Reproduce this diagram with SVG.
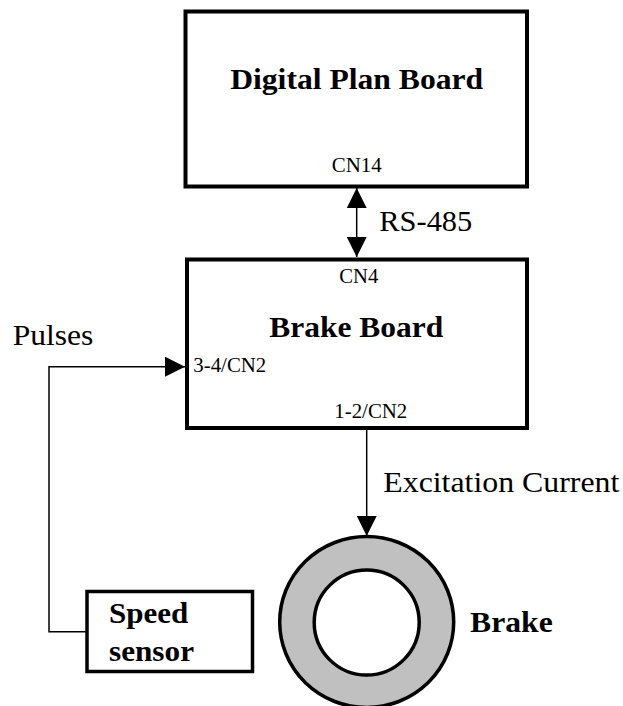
<svg xmlns="http://www.w3.org/2000/svg" width="623" height="706" viewBox="0 0 623 706">
  <style>
    .box { fill: #ffffff; stroke: #000000; stroke-width: 4; }
    .wire { fill: none; stroke: #000000; stroke-width: 1.5; }
    .bold { font-family: "Liberation Serif", "Times New Roman", serif; font-weight: bold; font-size: 29px; fill: #000000; }
    .reg { font-family: "Liberation Serif", "Times New Roman", serif; font-size: 29px; fill: #000000; }
    .small { font-family: "Liberation Serif", "Times New Roman", serif; font-size: 20px; fill: #000000; }
  </style>
  <defs>
    <marker id="arrow" markerUnits="userSpaceOnUse" markerWidth="20" markerHeight="20" viewBox="0 0 20 20" refX="20" refY="10" orient="auto-start-reverse">
      <path d="M0,0 L20,10 L0,20 Z" fill="#000000"/>
    </marker>
  </defs>
  <rect width="623" height="706" fill="#ffffff"/>

  <g id="connectors">
    <line class="wire" x1="356.7" y1="188" x2="356.7" y2="257" marker-start="url(#arrow)" marker-end="url(#arrow)"/>
    <polyline class="wire" points="87,631.7 49,631.7 49,366.7 185,366.7" marker-end="url(#arrow)"/>
    <line class="wire" x1="366.7" y1="430" x2="366.7" y2="536" marker-end="url(#arrow)"/>
  </g>

  <g id="digital-plan-board">
    <rect class="box" x="185.5" y="11.5" width="341.5" height="175"/>
    <text class="bold" x="356.7" y="89.3" text-anchor="middle" textLength="253" lengthAdjust="spacingAndGlyphs">Digital Plan Board</text>
    <text class="small" x="356.7" y="172.3" text-anchor="middle" textLength="50" lengthAdjust="spacingAndGlyphs">CN14</text>
  </g>

  <text id="rs485-label" class="reg" x="379.3" y="230.7" textLength="93" lengthAdjust="spacingAndGlyphs">RS-485</text>

  <g id="brake-board">
    <rect class="box" x="187" y="259.5" width="340" height="168.5"/>
    <text class="small" x="358.8" y="283.3" text-anchor="middle" textLength="39" lengthAdjust="spacingAndGlyphs">CN4</text>
    <text class="bold" x="356.3" y="336.7" text-anchor="middle" textLength="174" lengthAdjust="spacingAndGlyphs">Brake Board</text>
    <text class="small" x="193.3" y="371.7" textLength="73" lengthAdjust="spacingAndGlyphs">3-4/CN2</text>
    <text class="small" x="334.3" y="418.3" textLength="73" lengthAdjust="spacingAndGlyphs">1-2/CN2</text>
  </g>

  <text id="pulses-label" class="reg" x="12.7" y="345" textLength="80.7" lengthAdjust="spacingAndGlyphs">Pulses</text>
  <text id="excitation-label" class="reg" x="383.3" y="491.7" textLength="236" lengthAdjust="spacingAndGlyphs">Excitation Current</text>

  <g id="speed-sensor">
    <rect x="87" y="591.5" width="165.5" height="80" fill="#ffffff" stroke="#000000" stroke-width="3.5"/>
    <text class="bold" x="109" y="623.3" textLength="79.3" lengthAdjust="spacingAndGlyphs">Speed</text>
    <text class="bold" x="109" y="660.7" textLength="85" lengthAdjust="spacingAndGlyphs">sensor</text>
  </g>

  <g id="brake">
    <ellipse cx="366.7" cy="622" rx="87" ry="85.5" fill="#c0c0c0" stroke="#000000" stroke-width="3.5"/>
    <ellipse cx="366.7" cy="622.5" rx="52.5" ry="52.5" fill="#ffffff" stroke="#000000" stroke-width="3.5"/>
    <text class="bold" x="470" y="631.7" textLength="82.7" lengthAdjust="spacingAndGlyphs">Brake</text>
  </g>
</svg>
